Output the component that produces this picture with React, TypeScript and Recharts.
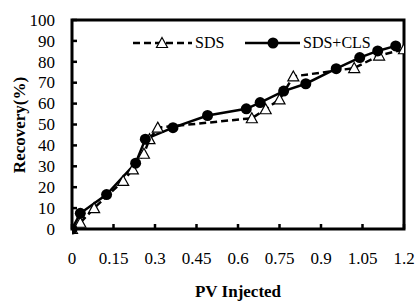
import React from 'react';
import { LineChart, Line, XAxis, YAxis, ReferenceArea } from 'recharts';

const sdsPv = [0, 0.03, 0.08, 0.185, 0.22, 0.26, 0.28, 0.31, 0.65, 0.7, 0.75, 0.8, 1.02, 1.11, 1.2];
const sdsRecovery = [0, 3, 10, 23, 28.5, 36, 43, 48.5, 53, 57.3, 62, 73, 77, 83, 86];

const clsPv = [0, 0.03, 0.125, 0.23, 0.265, 0.365, 0.49, 0.63, 0.68, 0.765, 0.845, 0.955, 1.04, 1.105, 1.17];
const clsRecovery = [0, 7.5, 16.5, 31.5, 43, 48.5, 54.3, 57.5, 60.5, 66, 69.5, 76.7, 82, 85.2, 87.6];

const xTicks = [0, 0.15, 0.3, 0.45, 0.6, 0.75, 0.9, 1.05, 1.2];
const yTicks = [0, 10, 20, 30, 40, 50, 60, 70, 80, 90, 100];

const sdsData = sdsPv.map((pv, i) => ({ pv, rec: sdsRecovery[i] }));
const clsData = clsPv.map((pv, i) => ({ pv, rec: clsRecovery[i] }));

const serif = { fontFamily: 'Liberation Serif' };

const triPath = (cx: number, cy: number) =>
  `M${cx},${cy - 5.5} L${cx + 5.5},${cy + 4.5} L${cx - 5.5},${cy + 4.5} Z`;

const TriangleDot = (props: any) => {
  const { cx, cy, index } = props;
  if (cx == null || cy == null) return <g key={`t${index}`} />;
  return <path key={`t${index}`} d={triPath(cx, cy)} fill="#fff" stroke="#000" strokeWidth={1.2} />;
};

const CircleDot = (props: any) => {
  const { cx, cy, index } = props;
  if (cx == null || cy == null) return <g key={`c${index}`} />;
  return <circle key={`c${index}`} cx={cx} cy={cy} r={5.5} fill="#000" />;
};

const XTick = (props: any) => {
  const { x, y, payload } = props;
  return (
    <g>
      <line x1={x} x2={x} y1={y} y2={y - 5} stroke="#000" strokeWidth={2.5} />
      <text x={x} y={y + 35} textAnchor="middle" style={serif} fontSize={17} fill="#000">
        {payload.value}
      </text>
    </g>
  );
};

const YTick = (props: any) => {
  const { x, y, payload } = props;
  return (
    <g>
      <line x1={x} x2={x + 5} y1={y} y2={y} stroke="#000" strokeWidth={2.5} />
      <text x={x - 17} y={y} dy="0.34em" textAnchor="end" style={serif} fontSize={17} fill="#000">
        {payload.value}
      </text>
    </g>
  );
};

export default function App() {
  return (
    <div style={{ position: 'absolute', left: 0, top: 0, width: 418, height: 301, background: '#fff', fontFamily: 'Liberation Serif' }}>
      <LineChart width={418} height={301} margin={{ top: 20, right: 14, bottom: 12, left: 12 }}>
        <XAxis
          type="number"
          dataKey="pv"
          domain={[0, 1.2]}
          ticks={xTicks}
          interval={0}
          axisLine={false}
          tickLine={false}
          tickSize={0}
          tickMargin={0}
          height={60}
          tick={<XTick />}
          allowDataOverflow
          label={{
            content: (p: any) => (
              <text
                x={p.viewBox.x + p.viewBox.width / 2}
                y={p.viewBox.y + 68}
                textAnchor="middle"
                style={serif}
                fontSize={17}
                fontWeight="bold"
                fill="#000"
              >
                PV Injected
              </text>
            ),
          }}
        />
        <YAxis
          type="number"
          domain={[0, 100]}
          ticks={yTicks}
          interval={0}
          axisLine={false}
          tickLine={false}
          tickSize={0}
          tickMargin={0}
          width={60}
          tick={<YTick />}
          label={{
            content: () => (
              <text
                x={25}
                y={125}
                transform="rotate(-90, 25, 125)"
                textAnchor="middle"
                style={serif}
                fontSize={17}
                fontWeight="bold"
                fill="#000"
              >
                Recovery(%)
              </text>
            ),
          }}
        />
        <ReferenceArea x1={0} x2={1.2} y1={0} y2={100} fill="none" stroke="#000" strokeWidth={3} />
        <Line
          data={sdsData}
          dataKey="rec"
          type="linear"
          stroke="#000"
          strokeWidth={2.5}
          strokeDasharray="7 4"
          dot={TriangleDot}
          isAnimationActive={false}
        />
        <Line
          data={clsData}
          dataKey="rec"
          type="linear"
          stroke="#000"
          strokeWidth={2.5}
          dot={CircleDot}
          isAnimationActive={false}
        />
      </LineChart>
      <svg width={418} height={60} style={{ position: 'absolute', left: 0, top: 0 }}>
        <line x1={133} x2={192} y1={43} y2={43} stroke="#000" strokeWidth={2.5} strokeDasharray="7 4" />
        <path d={triPath(162, 43)} fill="#fff" stroke="#000" strokeWidth={1.2} />
        <text x={195} y={43} dy="0.34em" style={serif} fontSize={16} fill="#000">SDS</text>
        <line x1={245} x2={300} y1={43} y2={43} stroke="#000" strokeWidth={2.5} />
        <circle cx={273} cy={43} r={5.5} fill="#000" />
        <text x={303} y={43} dy="0.34em" style={serif} fontSize={16} fill="#000">SDS+CLS</text>
      </svg>
    </div>
  );
}
